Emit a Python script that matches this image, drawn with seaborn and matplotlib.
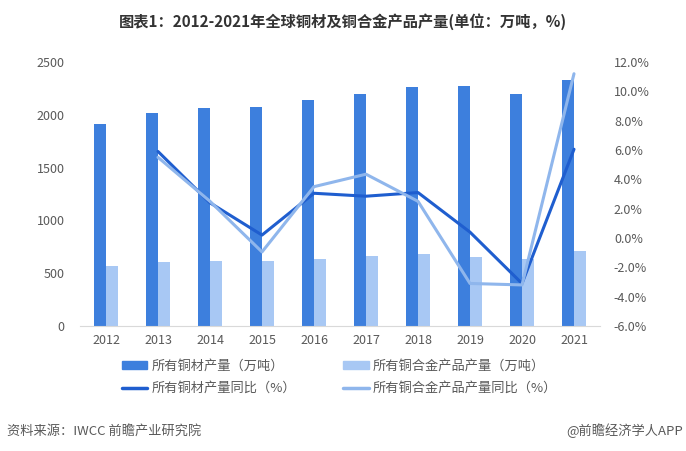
import matplotlib
matplotlib.use("Agg")
import matplotlib.pyplot as plt
import numpy as np
import pandas as pd
import seaborn as sns
from matplotlib.lines import Line2D
from matplotlib.patches import Patch

years = ["2012", "2013", "2014", "2015", "2016", "2017", "2018", "2019", "2020", "2021"]
copper = [1913, 2020, 2064, 2074, 2140, 2197, 2263, 2273, 2197, 2330]
alloy = [568, 606, 615, 615, 634, 663, 682, 653, 634, 710]
copper_yoy = [np.nan, 5.9, 2.4, 0.2, 3.05, 2.85, 3.1, 0.4, -3.1, 6.05]
alloy_yoy = [np.nan, 5.5, 2.5, -0.95, 3.5, 4.35, 2.5, -3.1, -3.2, 11.2]

name_cu = "所有铜材产量（万吨）"
name_al = "所有铜合金产品产量（万吨）"
name_cu_y = "所有铜材产量同比（%）"
name_al_y = "所有铜合金产品产量同比（%）"

c_dark_bar = "#3d7fdd"
c_light_bar = "#a8c8f4"
c_dark_line = "#1f5ecf"
c_light_line = "#8fb6ec"
grey = "#595959"

sns.set_style("white")
plt.rcParams["font.family"] = ["Noto Sans CJK SC", "DejaVu Sans"]

bars = pd.DataFrame({
    "year": years * 2,
    "value": copper + alloy,
    "series": [name_cu] * len(years) + [name_al] * len(years),
})
lines = pd.DataFrame({
    "pos": list(range(len(years))) * 2,
    "value": copper_yoy + alloy_yoy,
    "series": [name_cu_y] * len(years) + [name_al_y] * len(years),
})

fig = plt.figure(figsize=(6.86, 4.51), dpi=100)
ax = fig.add_axes([80 / 686, 1 - 326 / 451, 520 / 686, 264 / 451])

sns.barplot(bars, x="year", y="value", hue="series", order=years,
            palette=[c_dark_bar, c_light_bar], width=0.48, gap=0,
            saturation=1, linewidth=0, ax=ax, legend=False)
ax.set_xlim(-0.5, 9.5)
ax.set_ylim(0, 2500)
ax.set_yticks(range(0, 2501, 500))
ax.set_xlabel("")
ax.set_ylabel("")
for s in ["top", "right", "left"]:
    ax.spines[s].set_visible(False)
ax.spines["bottom"].set_color("#d9d9d9")
ax.tick_params(axis="both", colors=grey, labelsize=9, length=0)
ax.tick_params(axis="x", pad=6)
ax.tick_params(axis="y", pad=11)

ax2 = ax.twinx()
sns.lineplot(lines, x="pos", y="value", hue="series",
             palette=[c_dark_line, c_light_line], linewidth=2.2,
             ax=ax2, legend=False)
ax2.set_xlim(-0.5, 9.5)
ax2.set_ylim(-6, 12)
ax2.set_yticks(np.arange(-6, 12.1, 2))
ax2.set_yticklabels([f"{v:.1f}%" for v in np.arange(-6, 12.1, 2)])
ax2.set_ylabel("")
for s in ["top", "right", "left", "bottom"]:
    ax2.spines[s].set_visible(False)
ax2.tick_params(axis="y", colors=grey, labelsize=9, length=0, pad=10)

handles = [
    Patch(color=c_dark_bar), Line2D([], [], color=c_dark_line, lw=2.5),
    Patch(color=c_light_bar), Line2D([], [], color=c_light_line, lw=2.5),
]
labels = [name_cu, name_cu_y, name_al, name_al_y]
fig.legend(handles, labels, ncol=2, loc="center", bbox_to_anchor=(0.495, 0.163),
           frameon=False, fontsize=9.5, labelcolor=grey, handlelength=1.9,
           handleheight=0.5, handletextpad=0.3, columnspacing=3.6,
           labelspacing=0.7)

fig.text(0.5, 1 - 22 / 451, "图表1：2012-2021年全球铜材及铜合金产品产量(单位：万吨，%)",
         ha="center", va="center", fontsize=11, fontweight="bold", color="#333333")
fig.text(7 / 686, 1 - 431 / 451, "资料来源：IWCC 前瞻产业研究院",
         ha="left", va="center", fontsize=9.5, color=grey)
fig.text(683 / 686, 1 - 431 / 451, "@前瞻经济学人APP",
         ha="right", va="center", fontsize=9.5, color=grey)

fig.savefig("out.png", dpi=100)
